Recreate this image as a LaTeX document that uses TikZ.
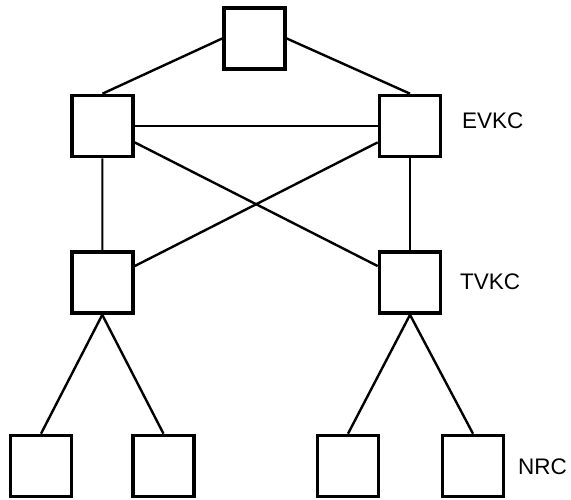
\documentclass[tikz,border=0pt]{standalone}
\usepackage{fontspec}
\setmainfont{Liberation Sans}
\usetikzlibrary{backgrounds}
\pgfdeclarelayer{edgelayer}
\pgfdeclarelayer{nodelayer}
\pgfsetlayers{edgelayer,nodelayer,main}
\tikzset{font=\fontsize{22.5}{27}\selectfont}
\tikzstyle{none}=[inner sep=0pt]
\tikzstyle{box}=[rectangle,fill=white,draw,line width=3.6pt,minimum size=61pt,inner sep=0pt]
\tikzstyle{lbl}=[inner sep=0pt,anchor=west]

\begin{document}
\begin{tikzpicture}
	\useasboundingbox (-10.034, -8.769) rectangle (10.034, 8.769);
	\begin{pgfonlayer}{nodelayer}
		\node [style=box] (0) at (-1.09, 7.416) {};
		\node [style=box] (1) at (-6.432, 4.341) {};
		\node [style=box] (2) at (4.376, 4.341) {};
		\node [style=box] (3) at (-6.44, -1.16) {};
		\node [style=box] (4) at (4.376, -1.16) {};
		\node [style=box] (5) at (-8.593, -7.609) {};
		\node [style=box] (6) at (-4.288, -7.609) {};
		\node [style=box] (7) at (2.197, -7.609) {};
		\node [style=box] (8) at (6.59, -7.609) {};
		\node [style=lbl] (9) at (6.203, 4.516) {EVKC};
		\node [style=lbl] (10) at (6.133, -1.142) {TVKC};
		\node [style=lbl] (11) at (8.171, -7.644) {NRC};
	\end{pgfonlayer}
	\begin{pgfonlayer}{edgelayer}
		\draw[line width=2.4pt] (0.west) to (1.north);
		\draw[line width=2.4pt] (0.east) to (2.north);
		\draw[line width=2pt] (1.east) to (2.west);
		\draw[line width=2.4pt] (1) to (4);
		\draw[line width=2.4pt] (2) to (3);
		\draw[line width=2pt] (1.south) to (3.north);
		\draw[line width=2pt] (2.south) to (4.north);
		\draw[line width=2.4pt] (3.south) to (5.north);
		\draw[line width=2.4pt] (3.south) to (6.north);
		\draw[line width=2.4pt] (4.south) to (7.north);
		\draw[line width=2.4pt] (4.south) to (8.north);
	\end{pgfonlayer}
\end{tikzpicture}
\end{document}
